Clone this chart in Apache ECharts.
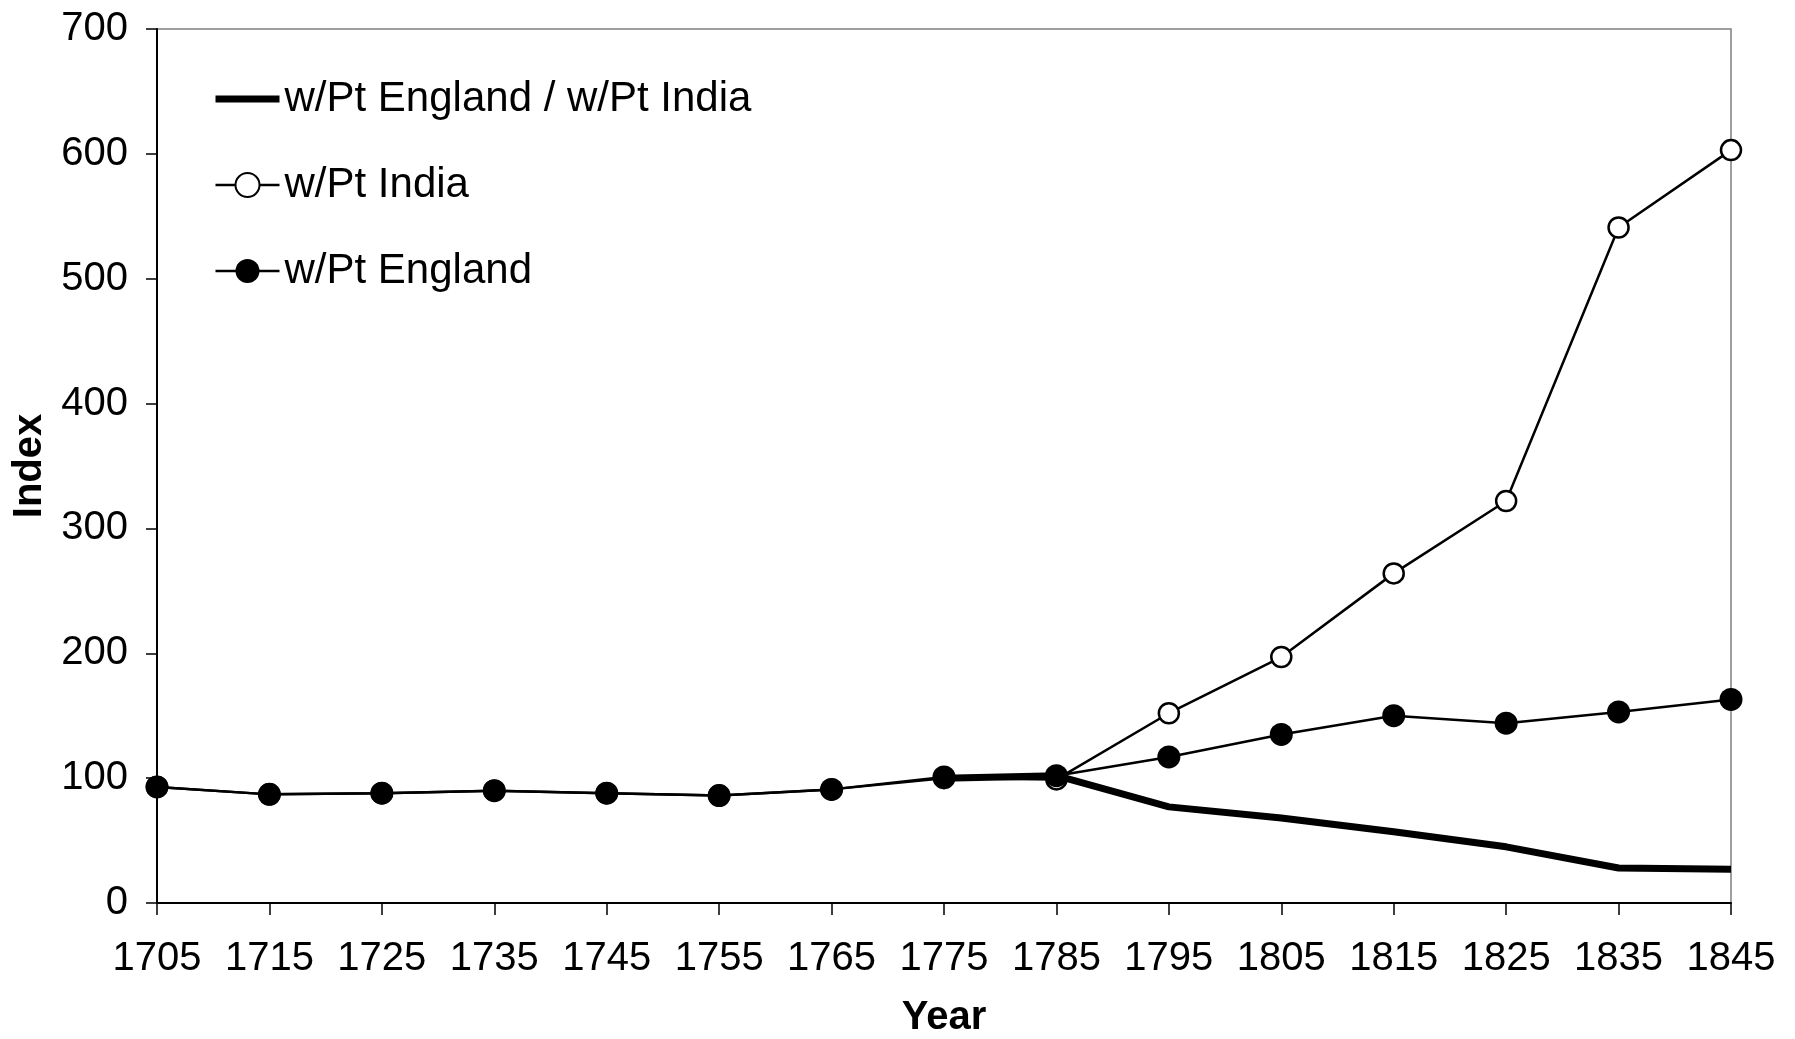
<!DOCTYPE html>
<html>
<head>
<meta charset="utf-8">
<script src="https://cdn.jsdelivr.net/npm/echarts@6/dist/echarts.min.js"></script>
<style>
  html, body { margin: 0; padding: 0; background: #fff; }
  #main { width: 1795px; height: 1039px; }
</style>
</head>
<body>
<div id="main"></div>
<script>
// data
var years = ['1705', '1715', '1725', '1735', '1745', '1755', '1765', '1775', '1785', '1795', '1805', '1815', '1825', '1835', '1845'];
var ptEngland = [93, 87, 88, 90, 88, 86, 91, 101, 102, 117, 135, 150, 144, 153, 163];
var ptIndia = [93, 87, 88, 90, 88, 86, 91, 100, 99, 152, 197, 264, 322, 541, 603];
var ratio = ['-', '-', '-', '-', '-', '-', '-', 100, 102, 77, 68, 57, 45, 28, 27];
var yTicks = [0, 100, 200, 300, 400, 500, 600, 700];

var font = 'Liberation Sans, Arial, sans-serif';

var myChart = echarts.init(document.getElementById('main'));

option = {
	backgroundColor: '#fff',
	animation: false,
	textStyle: { fontFamily: font, color: '#000' },
	grid: {
		left: 157,
		right: 64,
		top: 29,
		bottom: 136,
		outerBoundsMode: 'none',
		show: true,
		borderColor: '#808080',
		borderWidth: 1.5
	},
	legend: {
		orient: 'vertical',
		left: 212,
		top: 78,
		padding: 0,
		itemWidth: 64,
		itemHeight: 30,
		itemGap: 44,
		textStyle: { fontFamily: font, fontSize: 42, color: '#000' },
		data: [
			{
				name: 'w/Pt England / w/Pt India',
				itemStyle: { color: 'rgba(0,0,0,0)', borderWidth: 0 },
				lineStyle: { width: 7, color: '#000' }
			},
			{ name: 'w/Pt India', lineStyle: { width: 2.5 } },
			{ name: 'w/Pt England', lineStyle: { width: 2.5 } }
		]
	},
	xAxis: {
		type: 'category',
		data: years,
		boundaryGap: false,
		name: 'Year',
		nameLocation: 'middle',
		nameGap: 95,
		nameTextStyle: { fontFamily: font, fontSize: 40, fontWeight: 'bold', color: '#000' },
		axisLine: { lineStyle: { color: '#000', width: 2 } },
		axisTick: { show: true, alignWithLabel: true, length: 12, lineStyle: { color: '#000', width: 1.5 } },
		axisLabel: { fontFamily: font, fontSize: 40, color: '#000', margin: 36, interval: 0 },
		splitLine: { show: false }
	},
	yAxis: {
		type: 'value',
		min: yTicks[0],
		max: yTicks[yTicks.length - 1],
		interval: 100,
		name: 'Index',
		nameLocation: 'middle',
		nameGap: 106,
		nameTextStyle: { fontFamily: font, fontSize: 40, fontWeight: 'bold', color: '#000' },
		axisLine: { show: true, lineStyle: { color: '#000', width: 2 } },
		axisTick: { show: true, length: 11, lineStyle: { color: '#000', width: 1.5 } },
		axisLabel: { fontFamily: font, fontSize: 40, color: '#000', margin: 29 },
		splitLine: { show: false }
	},
	series: [
		{
			name: 'w/Pt India',
			type: 'line',
			data: ptIndia,
			symbol: 'circle',
			symbolSize: 20,
			showAllSymbol: true,
			lineStyle: { color: '#000', width: 2.5 },
			itemStyle: { color: '#fff', borderColor: '#000', borderWidth: 2.5 },
			z: 2
		},
		{
			name: 'w/Pt England',
			type: 'line',
			data: ptEngland,
			symbol: 'circle',
			symbolSize: 23,
			showAllSymbol: true,
			lineStyle: { color: '#000', width: 2.5 },
			itemStyle: { color: '#000', borderColor: '#000', borderWidth: 0 },
			z: 3
		},
		{
			name: 'w/Pt England / w/Pt India',
			type: 'line',
			data: ratio,
			symbol: 'none',
			lineStyle: { color: '#000', width: 7 },
			itemStyle: { color: '#000' },
			z: 4
		}
	]
};

myChart.setOption(option);
</script>
</body>
</html>
